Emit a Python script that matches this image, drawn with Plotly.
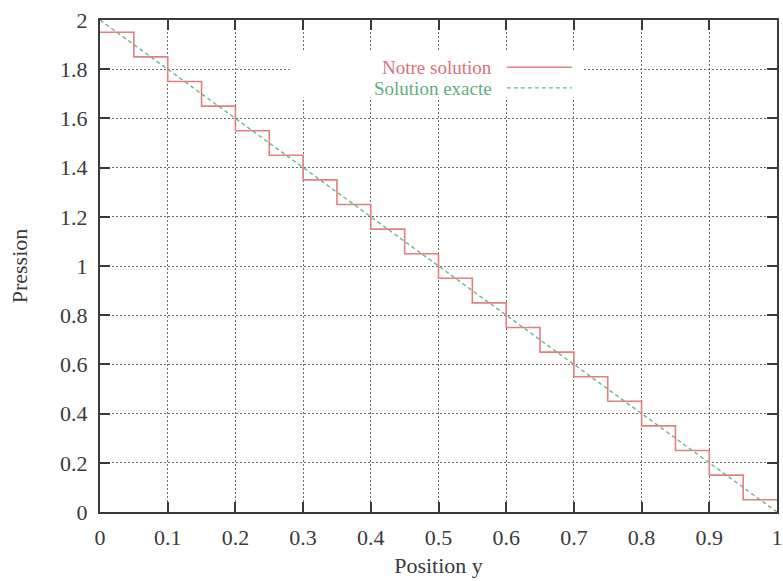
import plotly.graph_objects as go

# Step solution: cell edges along y and pressure value in each cell
position_edges = [0.0, 0.05, 0.1, 0.15, 0.2, 0.25, 0.3, 0.35, 0.4, 0.45, 0.5,
                  0.55, 0.6, 0.65, 0.7, 0.75, 0.8, 0.85, 0.9, 0.95, 1.0]
notre_solution = [1.95, 1.85, 1.75, 1.65, 1.55, 1.45, 1.35, 1.25, 1.15, 1.05,
                  0.95, 0.85, 0.75, 0.65, 0.55, 0.45, 0.35, 0.25, 0.15, 0.05]
# Exact linear solution
exact_x = [0.0, 1.0]
exact_y = [2.0, 0.0]

x_ticks = [0, 0.1, 0.2, 0.3, 0.4, 0.5, 0.6, 0.7, 0.8, 0.9, 1]
x_ticklabels = ["0", "0.1", "0.2", "0.3", "0.4", "0.5", "0.6", "0.7", "0.8", "0.9", "1"]
y_ticks = [0, 0.2, 0.4, 0.6, 0.8, 1, 1.2, 1.4, 1.6, 1.8, 2]
y_ticklabels = ["0", "0.2", "0.4", "0.6", "0.8", "1", "1.2", "1.4", "1.6", "1.8", "2"]

RED = "#e47f80"
RED_TXT = "#db6f7c"
GREEN = "#6cb68a"
GREEN_TXT = "#5fae7e"
FONT = "Liberation Serif, Times New Roman, serif"
INK = "#3a3a3a"

fig = go.Figure()
fig.add_trace(go.Scatter(
    x=position_edges, y=notre_solution + [notre_solution[-1]],
    mode="lines", line=dict(color=RED, width=1.6, shape="hv"),
    name="Notre solution", showlegend=False))
fig.add_trace(go.Scatter(
    x=exact_x, y=exact_y, mode="lines",
    line=dict(color=GREEN, width=1.4, dash="4px,3px"),
    name="Solution exacte", showlegend=False))

axis_common = dict(
    showline=True, linecolor=INK, linewidth=2, mirror="ticks",
    ticks="inside", ticklen=10, tickwidth=2, tickcolor=INK,
    showgrid=True, gridcolor="#6a6a6a", griddash="1.5px,2.5px", gridwidth=1.2,
    zeroline=False, tickfont=dict(family=FONT, size=22, color=INK),
    ticklabeloverflow="allow",
)

fig.update_xaxes(range=[0, 1], tickvals=x_ticks, ticktext=x_ticklabels,
                 ticklabelstandoff=5,
                 title=dict(text="Position y", font=dict(family=FONT, size=22, color=INK),
                            standoff=8),
                 **axis_common)
fig.update_yaxes(range=[0, 2], tickvals=y_ticks, ticktext=y_ticklabels,
                 ticklabelstandoff=6,
                 title=dict(text="Pression", font=dict(family=FONT, size=22, color=INK),
                            standoff=26),
                 **axis_common)

# Legend (gnuplot style: text on the left, sample on the right) on a white box
fig.add_shape(type="rect", xref="x", yref="y", x0=0.28, x1=0.715, y0=1.685, y1=1.875,
              fillcolor="white", line=dict(width=0), layer="between")
fig.add_annotation(xref="x", yref="y", x=0.582, y=1.806, text="Notre solution",
                   showarrow=False, xanchor="right",
                   font=dict(family=FONT, size=19, color=RED_TXT))
fig.add_annotation(xref="x", yref="y", x=0.582, y=1.72, text="Solution exacte",
                   showarrow=False, xanchor="right",
                   font=dict(family=FONT, size=19, color=GREEN_TXT))
fig.add_shape(type="line", xref="x", yref="y", x0=0.601, x1=0.697, y0=1.808, y1=1.808,
              line=dict(color=RED, width=1.6))
fig.add_shape(type="line", xref="x", yref="y", x0=0.601, x1=0.697, y0=1.724, y1=1.724,
              line=dict(color=GREEN, width=1.4, dash="4px,3px"))

fig.update_layout(
    width=783, height=581,
    margin=dict(l=100, r=0, t=20, b=69),
    plot_bgcolor="white", paper_bgcolor="white",
    font=dict(family=FONT, color=INK),
)

fig.write_html("out.html")
